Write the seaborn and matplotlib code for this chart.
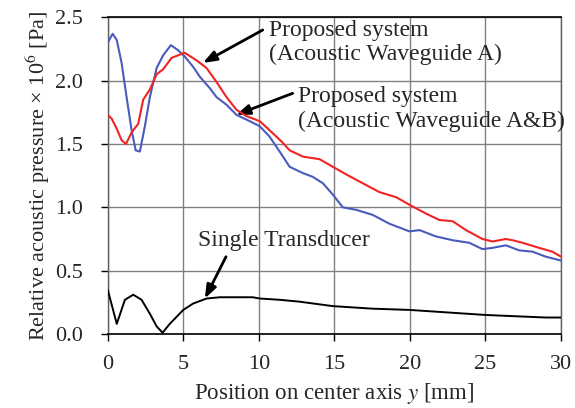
import matplotlib
matplotlib.use("Agg")
import matplotlib.pyplot as plt
import seaborn as sns
import pandas as pd

# values (x in mm, pressure x1e6 Pa)
x_ab = [0, 0.33, 0.6, 0.92, 1.25, 1.58, 1.85, 2.13, 2.46, 2.79, 3.24, 3.67, 4.18, 4.66,
        5.1, 5.65, 6.1, 6.76, 7.2, 7.86, 8.52, 9.4, 10.06, 10.7, 11.38, 12.04, 12.92,
        13.58, 14.24, 14.9, 15.56, 16.45, 17.54, 18.65, 19.97, 20.63, 21.73, 22.83,
        23.93, 24.8, 25.47, 26.35, 27.23, 28.11, 29.0, 30]
p_ab = [2.30, 2.37, 2.32, 2.14, 1.87, 1.61, 1.45, 1.44, 1.64, 1.87, 2.10, 2.20, 2.28, 2.24,
        2.19, 2.11, 2.03, 1.94, 1.87, 1.81, 1.73, 1.68, 1.64, 1.56, 1.44, 1.32, 1.27,
        1.24, 1.19, 1.10, 1.00, 0.98, 0.94, 0.87, 0.81, 0.82, 0.77, 0.74,
        0.72, 0.67, 0.68, 0.70, 0.66, 0.65, 0.61, 0.58]

x_a = [0, 0.26, 0.6, 0.92, 1.21, 1.58, 2.02, 2.35, 2.79, 3.24, 3.67, 4.23, 4.66, 5.1,
       5.88, 6.54, 7.2, 7.86, 8.52, 9.18, 10.06, 10.7, 11.5, 12.04, 12.92, 14.02, 14.9,
       15.78, 16.88, 17.98, 19.09, 19.97, 21.07, 21.95, 22.83, 23.71, 24.8, 25.47,
       26.35, 26.8, 27.45, 28.55, 29.43, 30]
p_a = [1.73, 1.70, 1.62, 1.53, 1.50, 1.59, 1.66, 1.85, 1.93, 2.05, 2.09, 2.18, 2.20, 2.22,
       2.16, 2.10, 1.99, 1.87, 1.77, 1.72, 1.68, 1.61, 1.52, 1.45, 1.40, 1.38, 1.32,
       1.26, 1.19, 1.12, 1.08, 1.02, 0.95, 0.90, 0.89, 0.82, 0.75, 0.73,
       0.75, 0.74, 0.72, 0.68, 0.65, 0.61]

x_single = [0, 0.6, 1.14, 1.69, 2.24, 2.79, 3.24, 3.63, 4.11, 5.0, 5.65, 6.54, 7.42, 9.6,
            10.06, 11.38, 12.7, 14.9, 17.5, 19.97, 22.5, 25.03, 27, 29.0, 30]
p_single = [0.35, 0.08, 0.27, 0.31, 0.27, 0.16, 0.06, 0.01, 0.08, 0.19, 0.24, 0.28, 0.29, 0.29,
            0.28, 0.27, 0.255, 0.22, 0.20, 0.19, 0.17, 0.15, 0.14, 0.13, 0.13]

sns.set_style("white")
plt.rcParams['font.family'] = ['Liberation Serif', 'DejaVu Serif']
plt.rcParams['mathtext.fontset'] = 'stix'

fig = plt.figure(figsize=(5.75, 4.08), dpi=100)
ax = fig.add_axes([0.1873, 0.1814, 0.7884, 0.7762])

df_ab = pd.DataFrame({"x": x_ab, "p": p_ab})
df_a = pd.DataFrame({"x": x_a, "p": p_a})
df_s = pd.DataFrame({"x": x_single, "p": p_single})

sns.lineplot(data=df_s, x="x", y="p", ax=ax, color="black", linewidth=1.4, sort=False, zorder=3)
sns.lineplot(data=df_ab, x="x", y="p", ax=ax, color="#4a5bbd", linewidth=1.5, sort=False, zorder=3)
sns.lineplot(data=df_a, x="x", y="p", ax=ax, color="#f02424", linewidth=1.5, sort=False, zorder=4)

ax.set_xlim(0, 30)
ax.set_ylim(0, 2.5)
ax.set_xticks(range(0, 31, 5))
ax.set_yticks([0, 0.5, 1.0, 1.5, 2.0, 2.5])
ax.set_yticklabels(["0.0", "0.5", "1.0", "1.5", "2.0", "2.5"])
ax.grid(True, color="#808080", linewidth=1.0)
ax.set_axisbelow(True)
ax.tick_params(axis="both", direction="out", length=5, width=1, color="black",
               labelsize=16, bottom=True, left=True)
ax.tick_params(axis="x", pad=10)
ax.tick_params(axis="y", pad=13)
for side in ["top", "bottom"]:
    ax.spines[side].set_color("black")
    ax.spines[side].set_linewidth(1.2)
for side in ["left", "right"]:
    ax.spines[side].set_color("#606060")
    ax.spines[side].set_linewidth(1.0)

ax.set_xlabel("Position on center axis $y$ [mm]", fontsize=16.5, labelpad=5)
ax.set_ylabel("Relative acoustic pressure × 10$^6$ [Pa]", fontsize=16, labelpad=2)

arrow = dict(arrowstyle="-|>,head_length=0.8,head_width=0.3", color="black", lw=2,
             shrinkA=0, shrinkB=0)
ax.text(10.65, 2.30, "Proposed system\n(Acoustic Waveguide A)", fontsize=17,
        ha="left", va="center", linespacing=1.2)
ax.annotate("", xy=(6.3, 2.14), xytext=(10.26, 2.40), arrowprops=arrow)
ax.text(12.57, 1.777, "Proposed system\n(Acoustic Waveguide A&B)", fontsize=17,
        ha="left", va="center", linespacing=1.2, clip_on=False)
ax.annotate("", xy=(8.5, 1.73), xytext=(12.24, 1.90), arrowprops=arrow)
ax.text(6.0, 0.735, "Single Transducer", fontsize=17, ha="left", va="center")
ax.annotate("", xy=(6.43, 0.28), xytext=(7.83, 0.61), arrowprops=arrow)

fig.savefig("out.png", dpi=100)
